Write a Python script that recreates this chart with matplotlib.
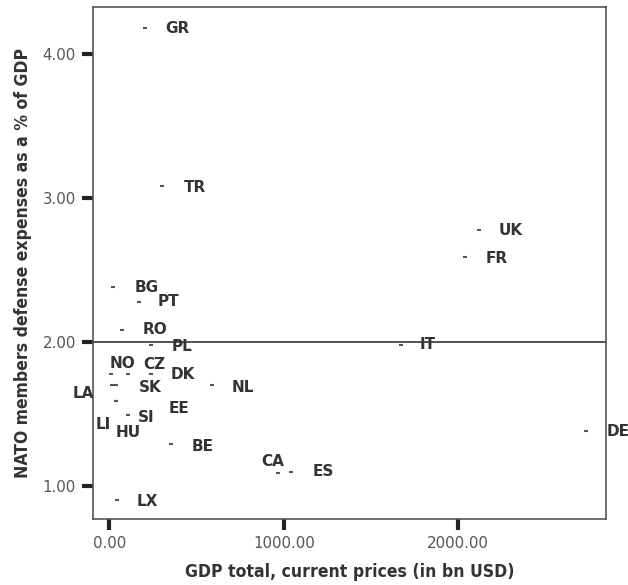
import matplotlib
matplotlib.use("Agg")
import matplotlib.pyplot as plt
from matplotlib import font_manager

countries = ['GR', 'TR', 'UK', 'FR', 'BG', 'PT', 'RO', 'PL', 'IT', 'NO', 'CZ', 'DK',
             'LA', 'SK', 'NL', 'EE', 'LI', 'SI', 'HU', 'DE', 'BE', 'CA', 'ES', 'LX']
gdp = [204, 299, 2120, 2038, 22, 169, 70, 238, 1670, 7, 108, 236,
       16, 38, 586, 36, 36, 108, 108, 2732, 353, 968, 1041, 41]
defense = [4.18, 3.08, 2.78, 2.59, 2.38, 2.28, 2.08, 1.98, 1.98, 1.78, 1.78, 1.78,
           1.70, 1.70, 1.70, 1.59, 1.59, 1.49, 1.49, 1.38, 1.29, 1.09, 1.10, 0.90]
# label offsets in pixels (placement only)
label_dx = [32, 33, 31, 32, 33, 30, 33, 31, 27, 12, 26, 32,
            -29, 34, 31, 63, -12, 18, 0, 32, 32, -6, 32, 31]
label_dy = [0, -1, -1, -1, 0, 0, 1, -2, 0, 10, 9, -1,
            -8, -2, -2, -7, -23, -2, -17, 0, -2, 12, 0, -1]

x_ticks = [0, 1000, 2000]
x_ticklabels = ['0.00', '1000.00', '2000.00']
y_ticks = [1, 2, 3, 4]
y_ticklabels = ['1.00', '2.00', '3.00', '4.00']
reference_level = 2.0

fig = plt.figure(figsize=(6.28, 5.85), dpi=100)
ax = fig.add_axes([92.7 / 628, 1 - 519.3 / 585, (606 - 92.7) / 628, (519.3 - 7.3) / 585])

ax.plot(gdp, defense, linestyle='none', marker='_', markersize=3.2,
        markeredgewidth=1.5, color='#555555')

for name, x, y, dx, dy in zip(countries, gdp, defense, label_dx, label_dy):
    ax.annotate(name, (x, y), xytext=(dx, dy), textcoords='offset pixels',
                ha='center', va='center', fontsize=11, fontweight='bold',
                color='#333333', family='DejaVu Sans', annotation_clip=False)

ax.axhline(reference_level, color='#444444', linewidth=1.3)

ax.set_xlim(-96, 2847)
ax.set_ylim(0.769, 4.324)
ax.set_xticks(x_ticks)
ax.set_xticklabels(x_ticklabels)
ax.set_yticks(y_ticks)
ax.set_yticklabels(y_ticklabels)
ax.tick_params(axis='both', direction='out', length=8, width=3, color='#222222',
               labelcolor='#555555', labelsize=10.8, pad=4)
for s in ax.spines.values():
    s.set_color('#555555')
    s.set_linewidth(1.2)

fp = font_manager.FontProperties(family='DejaVu Sans', weight='bold',
                                 stretch='condensed', size=12.6)
ax.set_xlabel('GDP total, current prices (in bn USD)', fontproperties=fp,
              color='#333333', labelpad=9)
ax.set_ylabel('NATO members defense expenses as a % of GDP', fontproperties=fp,
              color='#333333', labelpad=8)

fig.savefig('out.png', dpi=100)
